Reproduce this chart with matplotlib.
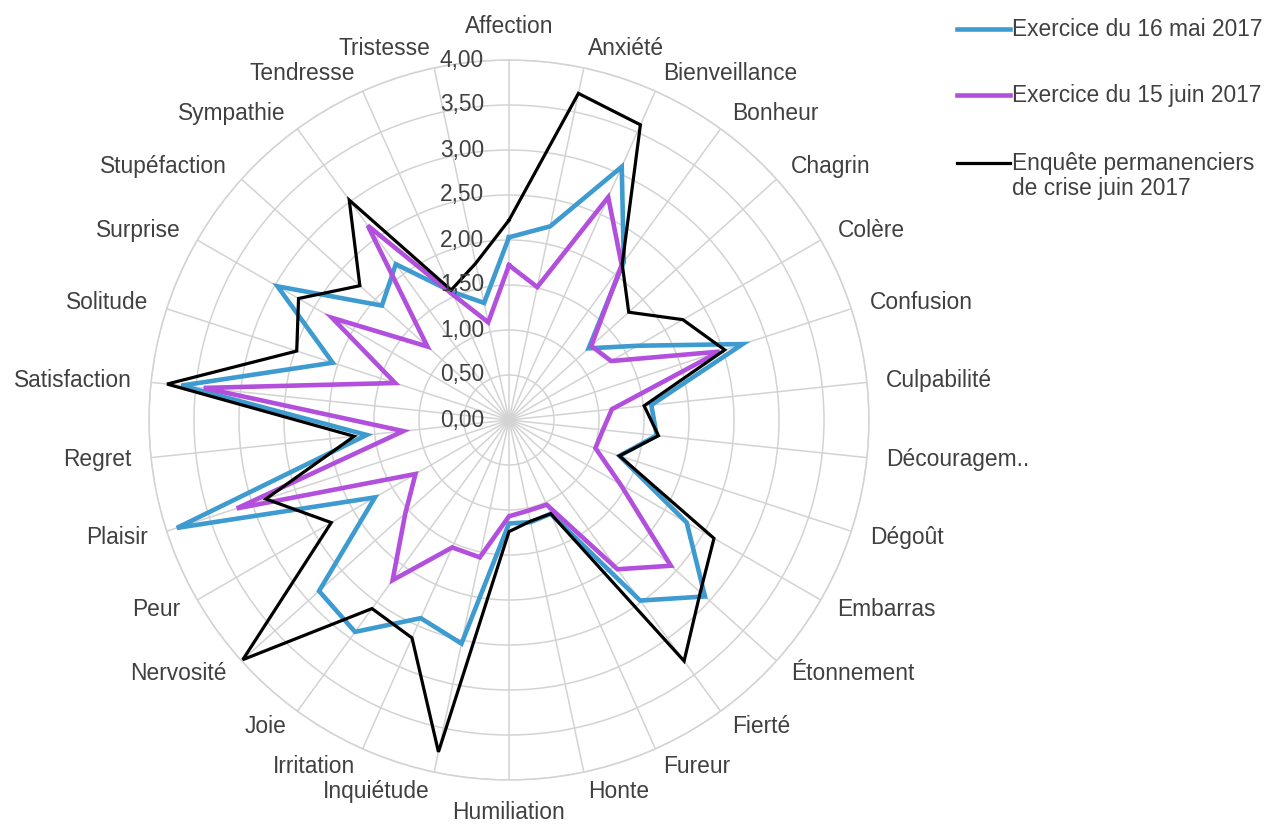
import numpy as np
import matplotlib
matplotlib.use("Agg")
import matplotlib.pyplot as plt
from matplotlib.lines import Line2D

categories = ["Affection", "Anxiété", "Bienveillance", "Bonheur", "Chagrin", "Colère",
              "Confusion", "Culpabilité", "Découragem..", "Dégoût", "Embarras", "Étonnement",
              "Fierté", "Fureur", "Honte", "Humiliation", "Inquiétude", "Irritation", "Joie",
              "Nervosité", "Peur", "Plaisir", "Regret", "Satisfaction", "Solitude", "Surprise",
              "Stupéfaction", "Sympathie", "Tendresse", "Tristesse"]

exercice_mai = [2.03, 2.20, 3.08, 2.17, 1.19, 1.65, 2.73, 1.59, 1.65, 1.29, 2.28, 2.93,
                2.48, 1.14, 1.16, 1.15, 2.54, 2.41, 2.91, 2.84, 1.72, 3.88, 1.59, 3.66,
                2.06, 2.97, 1.90, 2.14, 1.56, 1.33]
exercice_juin = [1.72, 1.51, 2.71, 2.13, 1.23, 1.31, 2.46, 1.15, 1.05, 1.01, 1.43, 2.42,
                 2.05, 1.03, 1.03, 1.07, 1.56, 1.55, 2.20, 1.55, 1.20, 3.18, 1.18, 3.41,
                 1.33, 2.27, 1.22, 2.67, 1.52, 1.11]
enquete_juin = [2.22, 3.71, 3.59, 2.14, 1.79, 2.23, 2.52, 1.51, 1.67, 1.29, 2.63, 2.86,
                3.31, 1.14, 1.15, 1.24, 3.77, 2.65, 2.59, 3.98, 2.28, 2.84, 1.73, 3.82,
                2.48, 2.70, 2.23, 3.02, 1.58, 1.78]

series_labels = ["Exercice du 16 mai 2017", "Exercice du 15 juin 2017",
                 "Enquête permanenciers\nde crise juin 2017"]
radial_ticks = [0.0, 0.5, 1.0, 1.5, 2.0, 2.5, 3.0, 3.5, 4.0]
radial_tick_labels = ["0,00", "0,50", "1,00", "1,50", "2,00", "2,50", "3,00", "3,50", "4,00"]

W, H = 1272, 824
fig = plt.figure(figsize=(W / 100, H / 100), dpi=100)
fig.patch.set_facecolor("white")

cx, cy, R = 509, 420, 360
ax = fig.add_axes([(cx - R) / W, (H - cy - R) / H, 2 * R / W, 2 * R / H], projection="polar")
ax.set_theta_zero_location("N")
ax.set_theta_direction(-1)

n = len(categories)
angles = np.deg2rad(np.arange(n) * 360.0 / n)

text_color = "#404040"
grid_color = "#d3d3d3"
fs = 16.4

ax.set_ylim(0, 4.0)
ax.set_xticks(angles)
ax.set_xticklabels([])
ax.set_yticks(radial_ticks)
ax.set_yticklabels([])
ax.grid(True, color=grid_color, linewidth=1.1)
ax.spines["polar"].set_color(grid_color)
ax.spines["polar"].set_linewidth(1.1)
ax.tick_params(length=0)

colors = ["#3d9bd0", "#b24fdc", "#000000"]
widths = [3.3, 3.3, 2.3]
for vals, col, lw, lab in zip([exercice_mai, exercice_juin, enquete_juin], colors, widths, series_labels):
    v = np.array(vals + vals[:1])
    a = np.concatenate([angles, angles[:1]])
    ax.plot(a, v, color=col, linewidth=lw, solid_joinstyle="miter", label=lab, zorder=3)

# category labels
d = 14.0  # points
for ang, lab in zip(angles, categories):
    s, c = np.sin(ang), np.cos(ang)
    if abs(s) < 0.05:
        ha = "center"
        va = "bottom" if c > 0 else "top"
        off = (0, 16 if c > 0 else -15)
    else:
        ha = "left" if s > 0 else "right"
        va = "center"
        off = (d * s, d * c)
    ax.annotate(lab, xy=(ang, 4.0), xytext=off, textcoords="offset points",
                ha=ha, va=va, fontsize=fs, color=text_color, fontfamily="Liberation Sans",
                annotation_clip=False)

# radial labels
for r, lab in zip(radial_ticks, radial_tick_labels):
    ax.annotate(lab, xy=(0, r), xytext=(-18, 0), textcoords="offset points",
                ha="right", va="center", fontsize=fs, color=text_color,
                fontfamily="Liberation Sans", annotation_clip=False, zorder=4)

# legend (manual, figure pixel coords)
def fx(x):
    return x / W

def fy(y):
    return 1 - y / H

legend_y = [29, 95, 163]
for yy, col, lw, lab in zip(legend_y, colors, widths, series_labels):
    fig.add_artist(Line2D([fx(957), fx(1010)], [fy(yy), fy(yy)], color=col,
                          linewidth=lw, transform=fig.transFigure))
    lines = lab.split("\n")
    for k, line in enumerate(lines):
        fig.text(fx(1012), fy(yy + 7 + 25 * k), line, ha="left", va="baseline",
                 fontsize=fs, color=text_color, fontfamily="Liberation Sans")

fig.savefig("out.png", dpi=100, facecolor="white")
